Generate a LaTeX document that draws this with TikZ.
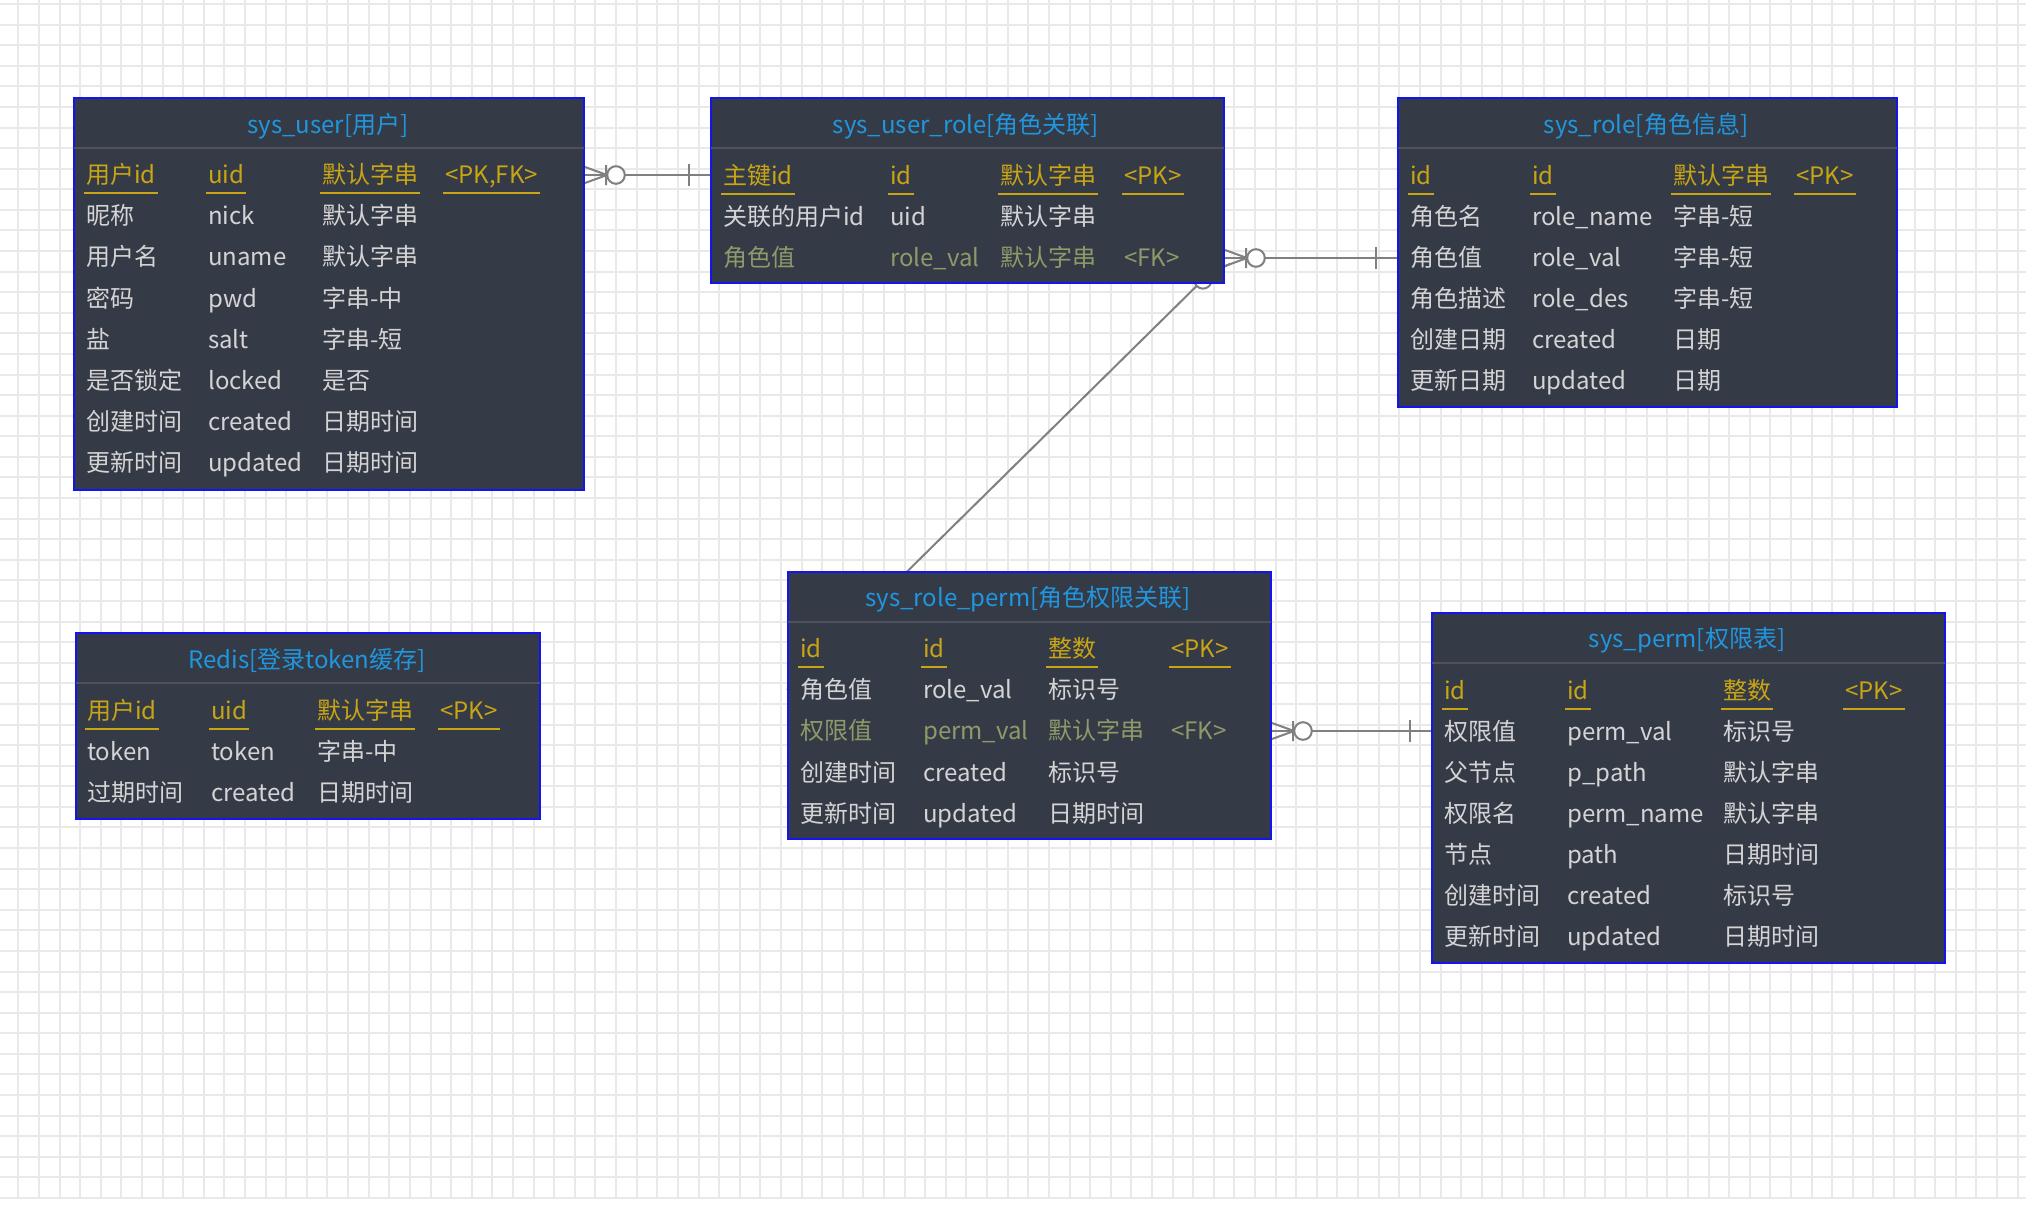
\documentclass[tikz,border=0pt]{standalone}
\usepackage{fontspec}
\newfontfamily\cjk{Noto Sans CJK SC}
\usetikzlibrary{backgrounds}
\definecolor{tblfill}{RGB}{53,58,71}
\definecolor{tblline}{RGB}{20,20,240}
\definecolor{ttlblue}{RGB}{32,150,222}
\definecolor{keygold}{RGB}{200,165,20}
\definecolor{celltext}{RGB}{212,212,212}
\definecolor{fkolive}{RGB}{140,155,105}
\definecolor{sepgray}{RGB}{78,81,92}
\definecolor{relgray}{RGB}{128,128,128}
\definecolor{gridgray}{RGB}{233,233,233}

\begin{document}
\begin{tikzpicture}[x=1pt,y=-1pt,font=\cjk\fontsize{24}{29}\selectfont,
  tbl/.style={draw=tblline,line width=2pt,fill=tblfill,anchor=north west,inner sep=0pt},
  ttl/.style={text=ttlblue,inner sep=0pt,text height=20pt,text depth=3pt},
  cell/.style={text=celltext,anchor=west,inner xsep=2pt,inner ysep=0pt,text height=20pt,text depth=3pt},
  key/.style={cell,text=keygold},
  fk/.style={cell,text=fkolive},
  sep/.style={draw=sepgray,line width=2pt,shorten <=1pt,shorten >=1pt},
  uline/.style={draw=keygold,line width=2.5pt},
  rel/.style={draw=relgray,line width=2pt},
  gridline/.style={draw=gridgray,line width=2pt},
  crowmany/.pic={\draw[rel] (0,-8) -- (22,0) -- (0,8) (21,-10) -- (21,10); \draw[rel,fill=white] (31,0) circle (8.8pt);},
  crowone/.pic={\draw[rel] (21,-11) -- (21,11);}]
\useasboundingbox (0,0) rectangle (2026,1212);

\node[tbl,minimum width=510pt,minimum height=392pt] (user) at (73,97) {};
\node[ttl] (user-t) at (328,125) {sys\_user[用户]};
\draw[sep] ([yshift=-51pt]user.north west) -- ([yshift=-51pt]user.north east);
\foreach \x/\t [count=\j] in {86/用户id,208/uid,322/默认字串,445/{<PK,FK>}}
  \node[key] (user-k\j) at (\x-2,175) {\t};
\foreach \a/\b/\c [count=\i] in {昵称/nick/默认字串,用户名/uname/默认字串,密码/pwd/字串-中,盐/salt/字串-短,是否锁定/locked/是否,创建时间/created/日期时间,更新时间/updated/日期时间} {
  \node[cell] (user-\i-1) at (84,175+41.2*\i) {\a};
  \node[cell] (user-\i-2) at (206,175+41.2*\i) {\b};
  \node[cell] (user-\i-3) at (320,175+41.2*\i) {\c};
}

\node[tbl,minimum width=513pt,minimum height=185pt] (urole) at (710,97) {};
\node[ttl] (urole-t) at (966,125) {sys\_user\_role[角色关联]};
\draw[sep] ([yshift=-51pt]urole.north west) -- ([yshift=-51pt]urole.north east);
\foreach \x/\t [count=\j] in {723/主键id,890/id,1000/默认字串,1124/<PK>}
  \node[key] (urole-k\j) at (\x-2,176) {\t};
\node[cell] (urole-1-1) at (721,217) {关联的用户id};
\node[cell] (urole-1-2) at (888,217) {uid};
\node[cell] (urole-1-3) at (998,217) {默认字串};
\node[fk] (urole-f1) at (721,258) {角色值};
\node[fk] (urole-f2) at (888,258) {role\_val};
\node[fk] (urole-f3) at (998,258) {默认字串};
\node[fk] (urole-f4) at (1122,258) {<FK>};

\node[tbl,minimum width=499pt,minimum height=309pt] (role) at (1397,97) {};
\node[ttl] (role-t) at (1646,125) {sys\_role[角色信息]};
\draw[sep] ([yshift=-51pt]role.north west) -- ([yshift=-51pt]role.north east);
\foreach \x/\t [count=\j] in {1410/id,1532/id,1673/默认字串,1796/<PK>}
  \node[key] (role-k\j) at (\x-2,176) {\t};
\foreach \a/\b/\c [count=\i] in {角色名/role\_name/字串-短,角色值/role\_val/字串-短,角色描述/role\_des/字串-短,创建日期/created/日期,更新日期/updated/日期} {
  \node[cell] (role-\i-1) at (1408,176+41*\i) {\a};
  \node[cell] (role-\i-2) at (1530,176+41*\i) {\b};
  \node[cell] (role-\i-3) at (1671,176+41*\i) {\c};
}

\node[tbl,minimum width=483pt,minimum height=267pt] (rperm) at (787,571) {};
\node[ttl] (rperm-t) at (1028,598) {sys\_role\_perm[角色权限关联]};
\draw[sep] ([yshift=-51pt]rperm.north west) -- ([yshift=-51pt]rperm.north east);
\foreach \x/\t [count=\j] in {800/id,923/id,1048/整数,1171/<PK>}
  \node[key] (rperm-k\j) at (\x-2,649) {\t};
\node[cell] (rperm-1-1) at (798,690) {角色值};
\node[cell] (rperm-1-2) at (921,690) {role\_val};
\node[cell] (rperm-1-3) at (1046,690) {标识号};
\node[fk] (rperm-f1) at (798,731) {权限值};
\node[fk] (rperm-f2) at (921,731) {perm\_val};
\node[fk] (rperm-f3) at (1046,731) {默认字串};
\node[fk] (rperm-f4) at (1169,731) {<FK>};
\foreach \a/\b/\c [count=\i from 3] in {创建时间/created/标识号,更新时间/updated/日期时间} {
  \node[cell] (rperm-\i-1) at (798,649+41.2*\i) {\a};
  \node[cell] (rperm-\i-2) at (921,649+41.2*\i) {\b};
  \node[cell] (rperm-\i-3) at (1046,649+41.2*\i) {\c};
}

\node[tbl,minimum width=513pt,minimum height=350pt] (perm) at (1431,612) {};
\node[ttl] (perm-t) at (1687,639) {sys\_perm[权限表]};
\draw[sep] ([yshift=-51pt]perm.north west) -- ([yshift=-51pt]perm.north east);
\foreach \x/\t [count=\j] in {1444/id,1567/id,1723/整数,1845/<PK>}
  \node[key] (perm-k\j) at (\x-2,691) {\t};
\foreach \a/\b/\c [count=\i] in {权限值/perm\_val/标识号,父节点/p\_path/默认字串,权限名/perm\_name/默认字串,节点/path/日期时间,创建时间/created/标识号,更新时间/updated/日期时间} {
  \node[cell] (perm-\i-1) at (1442,691+41*\i) {\a};
  \node[cell] (perm-\i-2) at (1565,691+41*\i) {\b};
  \node[cell] (perm-\i-3) at (1721,691+41*\i) {\c};
}

\node[tbl,minimum width=464pt,minimum height=186pt] (redis) at (75,632) {};
\node[ttl] (redis-t) at (307,660) {Redis[登录token缓存]};
\draw[sep] ([yshift=-51pt]redis.north west) -- ([yshift=-51pt]redis.north east);
\foreach \x/\t [count=\j] in {87/用户id,211/uid,317/默认字串,440/<PK>}
  \node[key] (redis-k\j) at (\x-2,711) {\t};
\foreach \a/\b/\c [count=\i] in {token/token/字串-中,过期时间/created/日期时间} {
  \node[cell] (redis-\i-1) at (85,711+41*\i) {\a};
  \node[cell] (redis-\i-2) at (209,711+41*\i) {\b};
  \node[cell] (redis-\i-3) at (315,711+41*\i) {\c};
}

\foreach \tb in {user,urole,role,rperm,perm,redis}
  \foreach \k in {1,...,4}
    \draw[uline] ([yshift=-6.5pt]\tb-k\k.south west) -- ([yshift=-6.5pt]\tb-k\k.south east);

\begin{pgfonlayer}{background}
\fill[white] (0,0) rectangle (2026,1212);
\foreach \g in {0,...,97}
  \draw[gridline] (18.3+20.612*\g,0) -- (18.3+20.612*\g,1198);
\foreach \g in {0,...,58}
  \draw[gridline] (0,4+20.586*\g) -- (2026,4+20.586*\g);

\draw[rel] (user.east |- user-k1) -- (urole.west |- user-k1);
\draw[rel] (urole.east |- urole-f1) -- (role.west |- urole-f1);
\draw[rel] (urole.east |- urole-f1) -- (rperm.west |- rperm-1-1);
\draw[rel] (rperm.east |- rperm-f1) -- (perm.west |- rperm-f1);
\pic at (user.east |- user-k1) {crowmany};
\pic[rotate=180] at (urole.west |- user-k1) {crowone};
\pic at (urole.east |- urole-f1) {crowmany};
\pic[rotate=180] at (role.west |- urole-f1) {crowone};
\pic[rotate=224.75] at (urole.east |- urole-f1) {crowmany};
\pic[rotate=44.75] at (rperm.west |- rperm-1-1) {crowone};
\pic at (rperm.east |- rperm-f1) {crowmany};
\pic[rotate=180] at (perm.west |- rperm-f1) {crowone};
\end{pgfonlayer}
\end{tikzpicture}
\end{document}
